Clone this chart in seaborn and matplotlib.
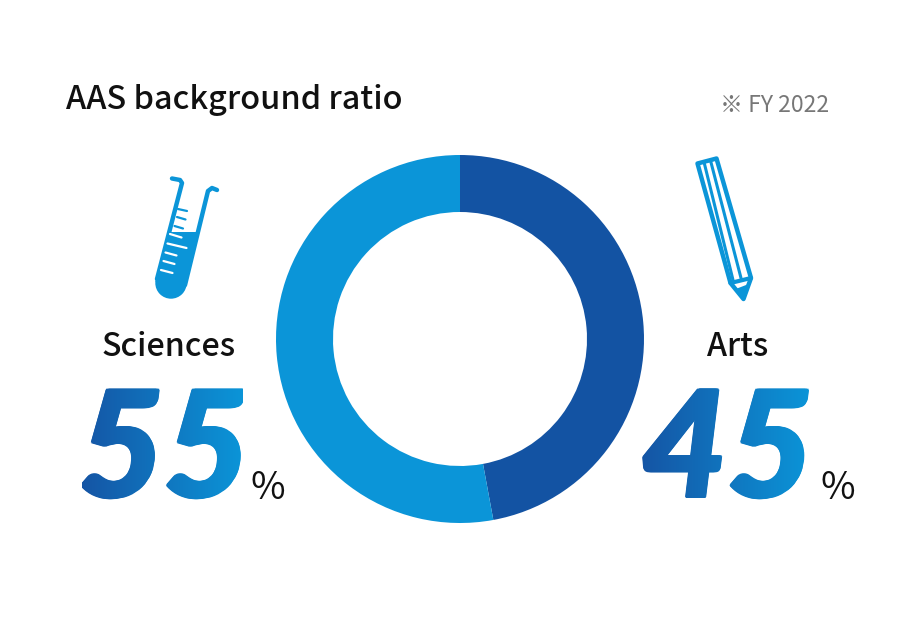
import numpy as np
import matplotlib
matplotlib.use('Agg')
import matplotlib.pyplot as plt
import seaborn as sns
from matplotlib.font_manager import FontProperties
from matplotlib.patches import Polygon, Circle, PathPatch
from matplotlib.textpath import TextPath
from matplotlib.transforms import Affine2D
from matplotlib.colors import LinearSegmentedColormap

# ring shares as drawn in the picture (the printed labels are rounded differently)
segments = ['Arts', 'Sciences']
ring_shares = [47.1, 52.9]
labels = ['Sciences', 'Arts']
percent_labels = ['55', '45']

DARK = '#1353a3'
LIGHT = '#0b95d8'

sns.set_theme(style='white')
plt.rcParams['font.family'] = ['Noto Sans CJK JP', 'DejaVu Sans']

fig = plt.figure(figsize=(9.19, 6.32), dpi=100, facecolor='white')
ax = fig.add_axes([0, 0, 1, 1])

# y axis runs downward here, so the angles are mirrored
palette = sns.color_palette([DARK, LIGHT])
ax.pie(ring_shares, colors=palette, startangle=-90, counterclock=True,
       center=(460, 339), radius=184, frame=True,
       wedgeprops=dict(width=57, linewidth=0))

ax.set_xlim(0, 919)
ax.set_ylim(632, 0)
ax.set_aspect('equal')
ax.axis('off')

# Header
ax.text(66, 109, 'AAS background ratio', fontsize=23.4, fontweight='medium', color='#111111')
ax.text(829, 112, '※ FY 2022', fontsize=16.5, color='#777777', ha='right')

# Category names
ax.text(168.5, 356, labels[0], fontsize=23.2, fontweight='medium', color='#111111', ha='center')
ax.text(738, 356, labels[1], fontsize=23.2, fontweight='medium', color='#111111', ha='center')

# Big numbers with a left-to-right gradient
big_font = FontProperties(family='Lato', style='italic', weight='black')
cmap = LinearSegmentedColormap.from_list('num', ['#1555a5', '#0b95d8'])
gradient = np.linspace(0, 1, 256).reshape(1, -1)
# small shifts of the clipped gradient make the digits a bit fatter
fatten = [(0, 0), (-2, 0), (2, 0), (0, -1), (0, 1), (-1.5, -1), (1.5, -1), (-1.5, 1), (1.5, 1)]


def big_number(s, x, y, size, x0, x1):
    ax.text(x, y, s, fontproperties=big_font, fontsize=size * 0.72,
            color='#1075be')
    path = TextPath((0, 0), s, size=size, prop=big_font)
    for dx, dy in fatten:
        clip = PathPatch(path, transform=Affine2D().scale(1, -1).translate(x + dx, y + dy) + ax.transData,
                         facecolor='none', edgecolor='none')
        ax.add_patch(clip)
        im = ax.imshow(gradient, cmap=cmap, extent=(x0, x1, y + 5, y - size), aspect='auto', zorder=3)
        im.set_clip_path(clip)


big_number(percent_labels[0], 78, 497, 148, 82, 243)
big_number(percent_labels[1], 641.5, 497, 148, 642, 811)
ax.set_xlim(0, 919)
ax.set_ylim(632, 0)

ax.text(267.5, 499, '%', fontsize=27, color='#111111', ha='center')
ax.text(837.5, 499, '%', fontsize=27, color='#111111', ha='center')

# Test tube icon
tube = dict(color=LIGHT, solid_capstyle='round', solid_joinstyle='round')
ax.plot([172, 180, 182, 157], [178.5, 180, 183, 279], lw=3.2, **tube)
ax.plot([217, 212, 208, 185], [190, 188, 191, 285], lw=3.2, **tube)
ax.add_patch(Polygon([(169, 232), (198, 232), (186.5, 285), (155.5, 282)], fc=LIGHT, ec='none'))
ax.add_patch(Circle((171, 283), 15.7, fc=LIGHT, ec='none'))
for (x0, y0), (x1, y1) in [((178, 209), (187, 211)), ((177, 217), (185.5, 219.5)), ((174.5, 226), (183, 228.5))]:
    ax.plot([x0, x1], [y0, y1], color=LIGHT, lw=1.6)
for (x0, y0), (x1, y1) in [((170, 234), (181.5, 237.5)), ((167.5, 243.5), (186.5, 248)),
                           ((165.5, 252.5), (176.5, 255.5)), ((163.5, 261), (174.5, 264)),
                           ((161, 270), (172.5, 273))]:
    ax.plot([x0, x1], [y0, y1], color='white', lw=1.6, zorder=3)

# Pencil icon
ax.add_patch(Polygon([(697.5, 163.5), (716.5, 158.5), (751, 278), (743.5, 299), (730.5, 283)],
                     closed=True, fc='white', ec=LIGHT, lw=3.2, joinstyle='round'))
ax.plot([704, 733], [162, 280], color=LIGHT, lw=2.2)
ax.plot([710.5, 741], [160.5, 278], color=LIGHT, lw=2.2)
ax.plot([730.5, 751], [283, 278], color=LIGHT, lw=3.0)
ax.add_patch(Polygon([(736, 290), (749, 285), (743.5, 299)], fc=LIGHT, ec=LIGHT, lw=1.5))

plt.savefig('out.png', dpi=100, facecolor='white')
